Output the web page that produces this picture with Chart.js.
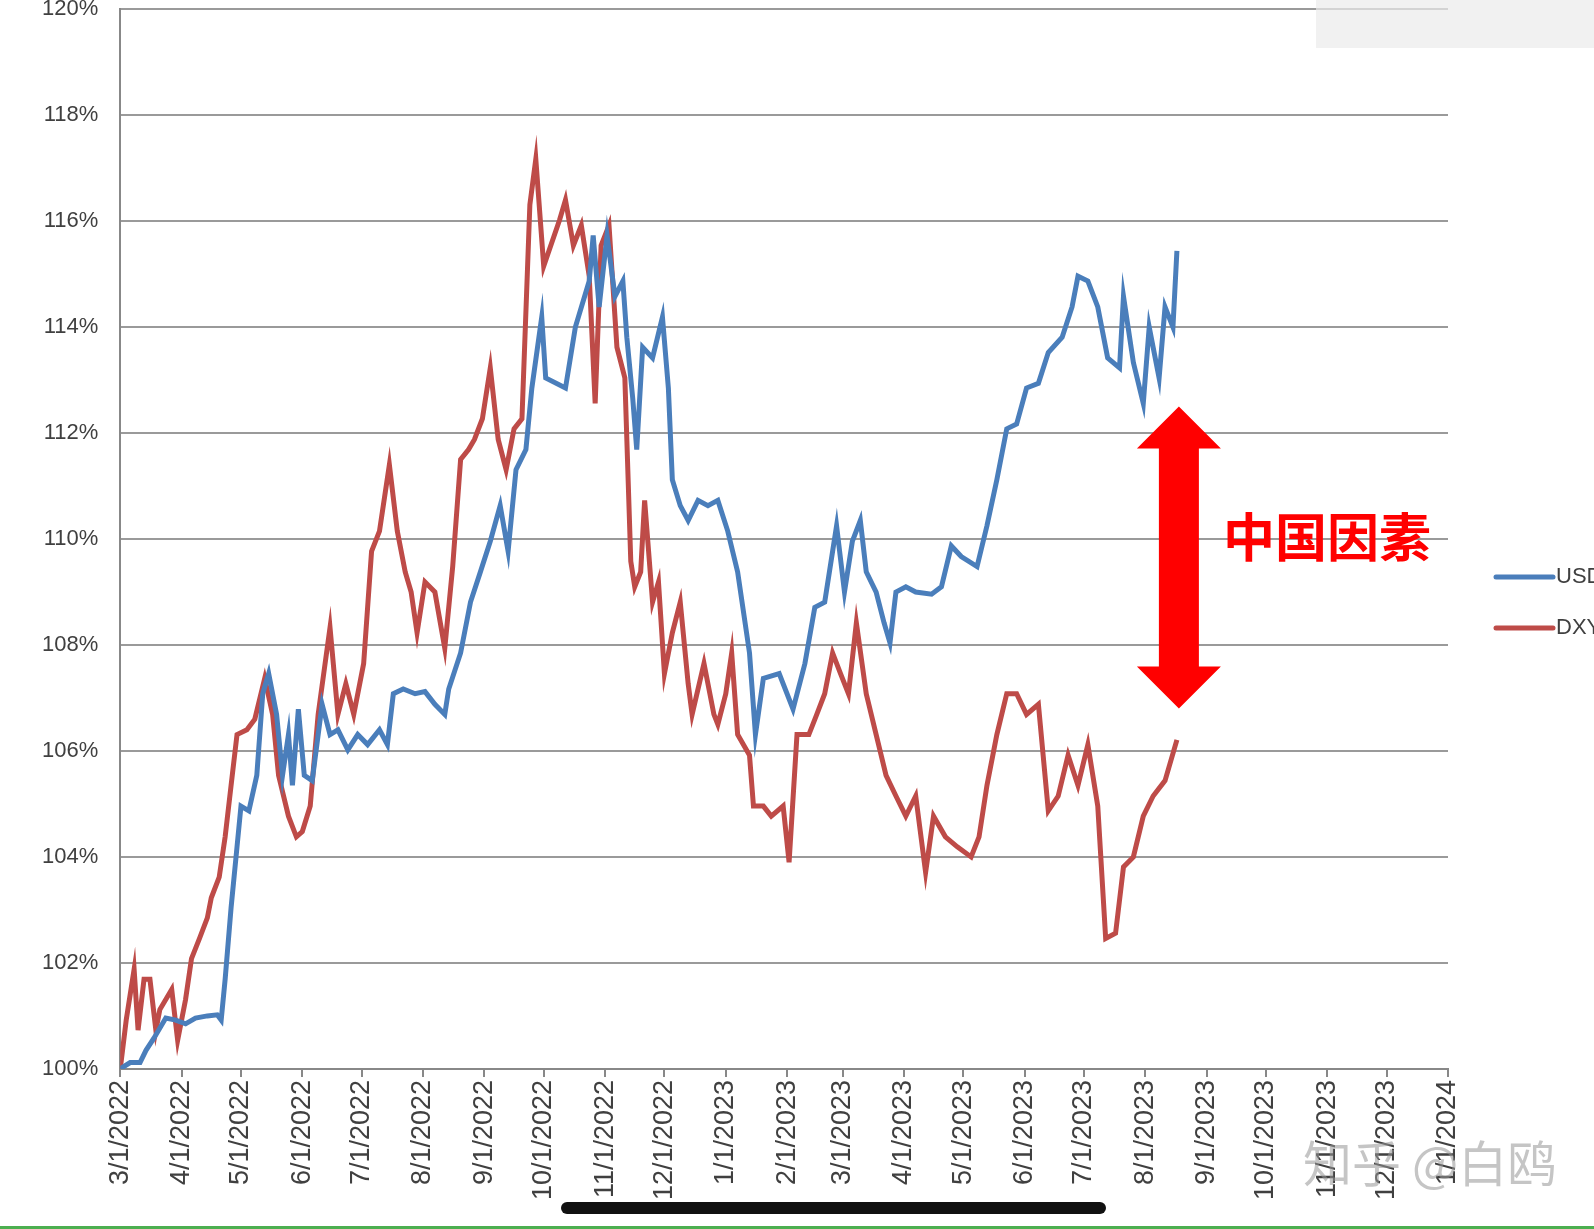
<!DOCTYPE html>
<html>
<head>
<meta charset="utf-8">
<script src="https://cdn.jsdelivr.net/npm/chart.js@4.4.0/dist/chart.umd.min.js"></script>
<style>
  html, body { margin: 0; padding: 0; background: #fff; overflow: hidden; }
  #wrap { position: relative; width: 1594px; height: 1229px; overflow: hidden; }
  #c { position: absolute; left: 0; top: -26px; }
</style>
</head>
<body>
<div id="wrap"><canvas id="c" width="1594" height="1255"></canvas></div>
<script>
// ===== DATA (x = days since 3/1/2022, y = % of start) =====
const monthDays = [0,31,61,92,122,153,184,214,245,275,306,337,365,396,426,457,487,518,549,579,610,640,671];
const monthLabels = ["3/1/2022","4/1/2022","5/1/2022","6/1/2022","7/1/2022","8/1/2022","9/1/2022","10/1/2022","11/1/2022","12/1/2022",
  "1/1/2023","2/1/2023","3/1/2023","4/1/2023","5/1/2023","6/1/2023","7/1/2023","8/1/2023","9/1/2023","10/1/2023","11/1/2023","12/1/2023","1/1/2024"];

const usdDays = [0,5,10,13,17,23,28,33,38,44,49,51,53,56,59,61,65,69,72,75,79,82,85,87,90,93,97,102,106,110,115,120,125,131,135,138,143,149,154,159,164,166,172,177,182,187,192,196,200,205,208,213,215,225,230,237,239,242,246,250,254,256,259,261,264,269,274,277,279,283,287,292,297,302,307,312,318,321,325,333,340,346,351,356,362,366,370,374,377,382,386,389,392,397,402,410,415,420,425,433,438,443,448,453,458,464,469,476,481,484,489,494,499,505,507,512,517,520,525,528,532,534];
const usdValues = [100,100.12,100.12,100.35,100.58,100.96,100.92,100.85,100.96,101.0,101.02,100.92,101.69,103.04,104.19,104.96,104.87,105.54,107.08,107.46,106.69,105.54,106.31,105.35,106.79,105.54,105.44,106.88,106.31,106.4,106.02,106.31,106.12,106.4,106.12,107.08,107.17,107.08,107.12,106.88,106.69,107.17,107.85,108.81,109.38,109.96,110.63,109.77,111.31,111.69,112.85,114.19,113.04,112.85,114.0,114.87,115.73,114.38,115.73,114.58,114.87,113.81,112.65,111.69,113.62,113.42,114.19,112.85,111.12,110.63,110.35,110.73,110.63,110.73,110.15,109.38,107.85,106.31,107.37,107.46,106.79,107.65,108.71,108.81,110.25,109.0,109.96,110.35,109.38,109.0,108.42,108.04,109.0,109.1,109.0,108.96,109.1,109.87,109.67,109.48,110.25,111.12,112.08,112.17,112.85,112.94,113.52,113.81,114.38,114.96,114.87,114.38,113.42,113.23,114.58,113.33,112.56,114.0,113.04,114.38,114.0,115.44];

const dxyDays = [0,3,7,9,12,15,18,20,26,29,33,36,40,44,46,50,53,56,59,64,68,73,77,80,85,89,92,96,100,106,110,114,118,123,127,131,136,140,144,147,150,154,159,164,168,172,176,179,183,187,191,195,199,203,207,210,214,222,225,229,233,237,240,243,247,251,255,258,260,263,265,269,272,275,279,283,287,289,295,300,302,306,309,312,318,320,325,329,335,338,342,348,352,356,360,364,368,372,377,382,387,392,397,402,407,411,417,423,430,434,438,443,448,453,458,464,469,474,479,484,489,494,498,503,507,512,517,522,528,534];
const dxyValues = [100,100.92,101.88,100.73,101.69,101.69,100.73,101.12,101.5,100.54,101.31,102.08,102.46,102.85,103.23,103.62,104.38,105.35,106.31,106.4,106.6,107.37,106.69,105.54,104.77,104.38,104.48,104.96,106.69,108.33,106.69,107.27,106.69,107.65,109.77,110.15,111.4,110.15,109.38,109.0,108.23,109.19,109.0,107.94,109.48,111.5,111.69,111.88,112.27,113.23,111.88,111.31,112.08,112.27,116.31,117.17,115.15,116.02,116.4,115.54,115.92,114.96,112.56,115.54,115.92,113.62,113.04,109.58,109.1,109.38,110.73,108.81,109.19,107.46,108.23,108.81,107.27,106.69,107.65,106.69,106.5,107.08,107.85,106.31,105.92,104.96,104.96,104.77,104.96,103.9,106.31,106.31,106.69,107.08,107.85,107.46,107.08,108.42,107.08,106.31,105.54,105.15,104.77,105.15,103.71,104.77,104.38,104.19,104.0,104.38,105.35,106.31,107.08,107.08,106.69,106.88,104.87,105.15,105.92,105.35,106.12,104.96,102.46,102.56,103.81,104.0,104.77,105.15,105.44,106.21];

const seriesNames = ["USDCNY", "DXY"];
const annotationText = "中国因素";
const arrowDay = 535, arrowTop = 112.5, arrowBottom = 106.8;

const OFF = 26; // canvas is shifted up by this much

const toXY = (days, vals) => days.map((d, i) => ({ x: d, y: vals[i] }));

// ===== extra drawing: arrow, text, legend, watermark =====
const overlay = {
  id: 'overlay',
  afterDraw(chart) {
    const { ctx, scales: { x, y } } = chart;
    ctx.save();
    // double arrow
    const ax = x.getPixelForValue(arrowDay);
    const top = y.getPixelForValue(arrowTop), bot = y.getPixelForValue(arrowBottom);
    const hw = 42, sw = 20, hh = 42;
    ctx.fillStyle = '#ff0000';
    ctx.beginPath();
    ctx.moveTo(ax, top);
    ctx.lineTo(ax + hw, top + hh);
    ctx.lineTo(ax + sw, top + hh);
    ctx.lineTo(ax + sw, bot - hh);
    ctx.lineTo(ax + hw, bot - hh);
    ctx.lineTo(ax, bot);
    ctx.lineTo(ax - hw, bot - hh);
    ctx.lineTo(ax - sw, bot - hh);
    ctx.lineTo(ax - sw, top + hh);
    ctx.lineTo(ax - hw, top + hh);
    ctx.closePath();
    ctx.fill();
    // label
    ctx.font = 'bold 52px "Noto Sans CJK SC"';
    ctx.textBaseline = 'middle';
    ctx.textAlign = 'left';
    ctx.fillText(annotationText, ax + 44, (top + bot) / 2 - 20);
    // legend (cut off at right edge)
    const colors = ['#4a7ebb', '#be4b48'];
    ctx.font = '22px "Liberation Sans"';
    seriesNames.forEach((n, i) => {
      const ly = 577 + OFF + i * 51;
      ctx.strokeStyle = colors[i];
      ctx.lineWidth = 5;
      ctx.lineCap = 'round';
      ctx.beginPath();
      ctx.moveTo(1496, ly);
      ctx.lineTo(1553, ly);
      ctx.stroke();
      ctx.fillStyle = '#404040';
      ctx.fillText(n, 1556, ly);
    });
    // watermark
    ctx.font = '49px "Noto Sans CJK SC"';
    ctx.fillStyle = 'rgba(150,150,150,0.55)';
    ctx.fillText('知乎 @白鸥', 1303, 1163 + OFF);
    // scroll pill
    ctx.fillStyle = '#111';
    ctx.beginPath();
    ctx.roundRect(561, 1202 + OFF, 545, 12, 6);
    ctx.fill();
    // faint toolbar
    ctx.fillStyle = 'rgba(235,235,235,0.7)';
    ctx.fillRect(1316, OFF, 278, 48);
    ctx.fillStyle = '#4caf50';
    ctx.fillRect(0, 1226 + OFF, 1594, 3);
    ctx.restore();
  }
};

new Chart(document.getElementById('c'), {
  type: 'line',
  data: {
    datasets: [
      { label: seriesNames[0], data: toXY(usdDays, usdValues), borderColor: '#4a7ebb', borderWidth: 5, pointRadius: 0, tension: 0 },
      { label: seriesNames[1], data: toXY(dxyDays, dxyValues), borderColor: '#be4b48', borderWidth: 5, pointRadius: 0, tension: 0 }
    ]
  },
  options: {
    responsive: false,
    animation: false,
    layout: { padding: { left: 20, right: 146, top: 8, bottom: 26 } },
    plugins: { legend: { display: false }, tooltip: { enabled: false } },
    scales: {
      x: {
        type: 'linear', min: 0, max: 671,
        afterBuildTicks: s => { s.ticks = monthDays.map(v => ({ value: v })); },
        ticks: {
          autoSkip: false, minRotation: 90, maxRotation: 90,
          color: '#404040', font: { size: 27, family: 'Liberation Sans' },
          callback: v => monthLabels[monthDays.indexOf(v)]
        },
        grid: { display: true, drawOnChartArea: false, drawTicks: true, tickLength: 8, color: '#888', lineWidth: 2 },
        border: { color: '#888', width: 2 }
      },
      y: {
        min: 100, max: 120,
        ticks: { stepSize: 2, color: '#404040', padding: 22, font: { size: 22, family: 'Liberation Sans' }, callback: v => v + '%' },
        grid: { color: '#9a9a9a', lineWidth: 2, drawTicks: false },
        border: { color: '#888', width: 2 }
      }
    }
  },
  plugins: [overlay]
});
</script>
</body>
</html>
